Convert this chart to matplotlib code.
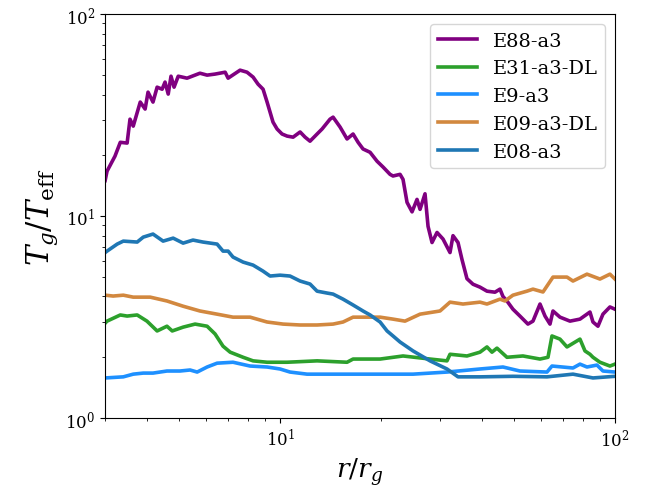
import numpy as np
import matplotlib
matplotlib.use('Agg')
import matplotlib.pyplot as plt

plt.rcParams['font.family'] = 'DejaVu Serif'
plt.rcParams['mathtext.fontset'] = 'dejavuserif'

# E88-a3
r_e88 = [3.00, 3.04, 3.21, 3.33, 3.49, 3.56, 3.64, 3.82, 3.95, 4.03, 4.17, 4.29, 4.44, 4.53,
         4.63, 4.72, 4.82, 4.96, 5.27, 5.76, 6.05, 6.39, 6.85, 6.99, 7.59, 7.96, 8.30, 8.59,
         8.89, 9.14, 9.33, 9.52, 9.79, 10.13, 10.49, 10.93, 11.47, 11.87, 12.28, 12.89, 13.34,
         14.09, 14.39, 15.10, 15.84, 16.51, 17.09, 17.68, 18.56, 19.47, 20.29, 21.29, 21.73,
         22.81, 23.28, 23.93, 24.77, 25.63, 26.17, 27.08, 27.65, 28.42, 29.41, 30.65, 32.16,
         32.83, 33.98, 34.92, 36.14, 37.67, 39.52, 41.47, 43.82, 45.35, 46.29, 47.58, 49.58,
         52.02, 54.96, 56.90, 59.72, 61.81, 63.97, 65.30, 68.52, 73.40, 78.62, 84.21, 85.97,
         88.97, 92.08, 96.61, 100.0]
t_e88 = [15.0, 16.7, 19.8, 23.2, 23.0, 30.2, 27.9, 36.7, 33.9, 41.1, 36.7, 43.5, 42.5, 46.1,
         40.2, 49.3, 43.5, 49.3, 48.2, 51.0, 49.9, 50.5, 51.6, 48.2, 52.8, 51.6, 48.8, 45.0,
         42.5, 36.7, 32.7, 29.2, 27.0, 25.5, 24.9, 24.6, 26.1, 24.6, 23.5, 25.5, 27.0,
         30.2, 30.9, 27.6, 24.1, 25.5, 23.2, 21.5, 20.7, 18.7, 17.5, 16.1, 15.8,
         16.1, 15.2, 11.7, 10.5, 12.1, 10.8, 12.9, 8.9, 7.4, 8.3, 7.7, 6.6,
         8.0, 7.4, 6.1, 4.9, 4.6, 4.45, 4.25, 4.2, 4.35, 4.0, 3.8, 3.46,
         3.2, 2.92, 3.02, 3.67, 3.2, 2.92, 3.39, 3.16, 3.02, 3.09, 3.35, 2.99,
         2.85, 3.27, 3.55, 3.46]

# E31-a3-DL
r_e31 = [3.00, 3.04, 3.33, 3.49, 3.74, 4.00, 4.29, 4.59, 4.76, 5.13, 5.57, 6.05, 6.39, 6.75,
         7.09, 7.75, 8.30, 9.14, 10.49, 12.89, 15.84, 16.51, 19.88, 23.28, 28.03, 31.50,
         32.16, 36.14, 39.52, 41.47, 42.92, 44.42, 47.58, 53.11, 59.72, 63.09, 64.85, 68.52,
         71.90, 78.62, 81.37, 84.21, 85.97, 90.20, 96.61, 100.0]
t_e31 = [2.95, 3.02, 3.24, 3.20, 3.24, 3.02, 2.70, 2.85, 2.70, 2.82, 2.92, 2.85, 2.61, 2.27,
         2.12, 2.00, 1.92, 1.89, 1.89, 1.92, 1.89, 1.96, 1.96, 2.03, 1.96, 1.92,
         2.07, 2.03, 2.12, 2.25, 2.12, 2.22, 2.00, 2.03, 1.96, 2.00, 2.55, 2.46,
         2.25, 2.46, 2.15, 2.07, 2.00, 1.89, 1.81, 1.85]

# E9-a3
r_e9 = [3.00, 3.40, 3.64, 3.90, 4.17, 4.59, 5.02, 5.38, 5.65, 6.05, 6.48, 7.23, 8.13, 9.14,
        9.99, 10.70, 12.03, 14.39, 18.18, 22.81, 24.94, 31.50, 39.52, 46.29, 52.02, 62.66,
        64.85, 74.93, 78.62, 82.49, 88.36, 92.08, 100.0]
t_e9 = [1.58, 1.60, 1.65, 1.67, 1.67, 1.71, 1.71, 1.73, 1.69, 1.79, 1.87, 1.89, 1.81, 1.79,
        1.75, 1.69, 1.65, 1.65, 1.65, 1.65, 1.65, 1.69, 1.75, 1.79, 1.71, 1.69,
        1.81, 1.77, 1.85, 1.79, 1.83, 1.71, 1.69]

# E09-a3-DL
r_e09 = [3.00, 3.17, 3.40, 3.64, 4.09, 4.59, 5.13, 5.76, 6.48, 7.23, 8.13, 9.14, 10.20, 11.47,
         12.89, 14.39, 15.41, 16.51, 18.18, 19.88, 21.73, 23.60, 26.17, 30.02, 32.16, 35.16,
         39.52, 41.47, 45.35, 46.93, 49.58, 54.59, 56.90, 60.96, 65.30, 71.90, 74.93, 82.49,
         90.20, 96.61, 100.0]
t_e09 = [4.06, 4.02, 4.06, 3.97, 3.97, 3.80, 3.58, 3.39, 3.27, 3.16, 3.16, 2.99, 2.92, 2.89,
         2.89, 2.92, 2.99, 3.16, 3.16, 3.16, 3.09, 3.02, 3.27, 3.39, 3.75, 3.67,
         3.75, 3.67, 3.88, 3.80, 4.06, 4.25, 4.35, 4.21, 4.99, 4.99, 4.77, 5.16,
         4.88, 5.16, 4.88]

# E08-a3
r_e08 = [3.00, 3.04, 3.26, 3.40, 3.74, 3.90, 4.17, 4.47, 4.79, 5.13, 5.49, 5.88, 6.48, 6.75,
         6.99, 7.23, 7.75, 8.30, 8.89, 9.33, 9.99, 10.70, 11.47, 12.28, 12.89, 13.80, 14.39,
         15.41, 16.51, 17.68, 18.56, 19.88, 20.86, 21.73, 22.81, 24.94, 28.03, 31.50, 33.98,
         39.52, 49.58, 62.66, 74.93, 85.97, 100.0]
t_e08 = [6.6, 6.71, 7.27, 7.52, 7.44, 7.87, 8.15, 7.52, 7.78, 7.35, 7.61, 7.44, 7.27, 6.71,
         6.71, 6.27, 5.92, 5.72, 5.34, 5.05, 5.10, 5.05, 4.77, 4.61, 4.25, 4.16, 4.11,
         3.88, 3.63, 3.39, 3.24, 2.99, 2.70, 2.55, 2.38, 2.15, 1.92, 1.75, 1.60,
         1.60, 1.61, 1.60, 1.65, 1.58, 1.61]

fig = plt.figure(figsize=(6.57, 4.89), dpi=100)
ax = fig.add_axes([0.16, 0.143, 0.776, 0.826])

ax.plot(r_e88, t_e88, color='purple', lw=2.6, label='E88-a3')
ax.plot(r_e31, t_e31, color='#2ca02c', lw=2.6, label='E31-a3-DL')
ax.plot(r_e9, t_e9, color='#1e90ff', lw=2.6, label='E9-a3')
ax.plot(r_e09, t_e09, color='#d2883f', lw=2.6, label='E09-a3-DL')
ax.plot(r_e08, t_e08, color='#1f77b4', lw=2.6, label='E08-a3')

ax.set_xscale('log')
ax.set_yscale('log')
ax.set_xlim(3, 100)
ax.set_ylim(1, 100)
ax.tick_params(labelsize=12)
ax.set_xlabel(r'$r/r_g$', fontsize=19)
ax.set_ylabel(r'$T_g/T_{\rm eff}$', fontsize=22)
ax.legend(loc='upper right', fontsize=14)

fig.savefig('out.png', dpi=100)
